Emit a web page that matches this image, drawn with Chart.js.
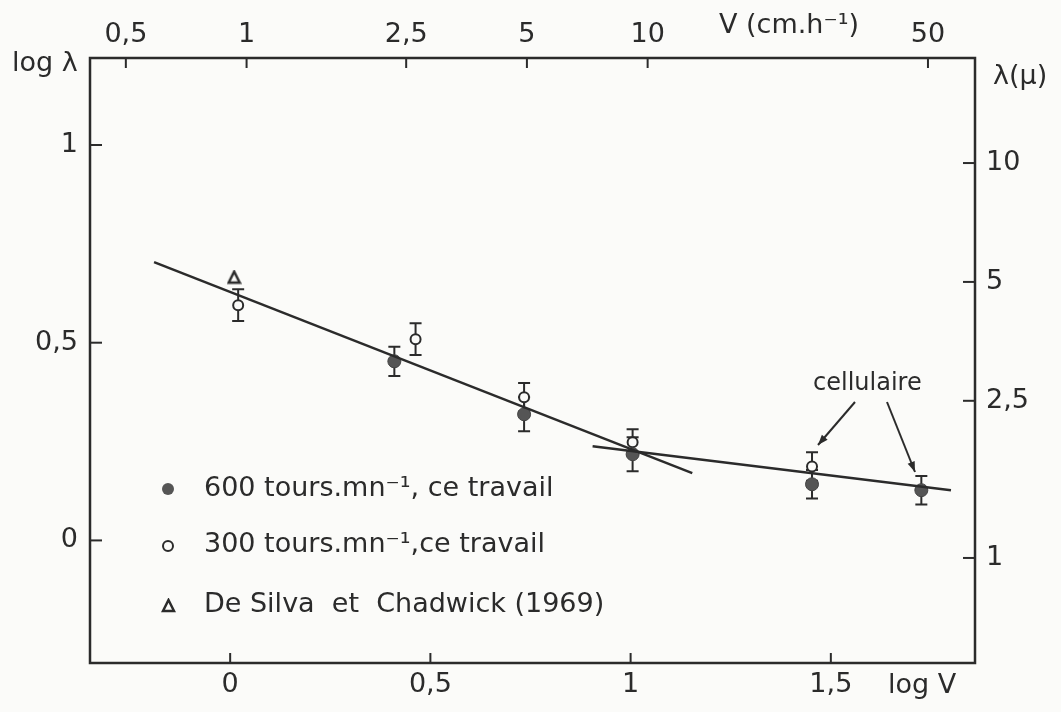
<!DOCTYPE html>
<html>
<head>
<meta charset="utf-8">
<script src="https://cdn.jsdelivr.net/npm/chart.js@4.4.1/dist/chart.umd.min.js"></script>
<style>
  body { margin: 0; background: #fbfbf9; }
  canvas { display: block; }
</style>
</head>
<body>
<canvas id="chart" width="1061" height="712"></canvas>
<script>
// data (log V, log lambda)
const logV600 = [0.41, 0.734, 1.005, 1.453, 1.726];
const logL600 = [0.453, 0.319, 0.218, 0.142, 0.127];
const err600 = [0.037, 0.043, 0.043, 0.036, 0.036];

const logV300 = [0.02, 0.463, 0.734, 1.005, 1.453];
const logL300 = [0.595, 0.509, 0.362, 0.248, 0.187];
const err300 = [0.04, 0.04, 0.036, 0.033, 0.036];

const logVDeSilva = [0.01];
const logLDeSilva = [0.666];

// fitted straight lines
const fit1V = [-0.19, 1.154];
const fit1L = [0.704, 0.170];
const fit2V = [0.905, 1.80];
const fit2L = [0.238, 0.127];

// tick labels
const bottomTicks = [0, 0.5, 1, 1.5];
const bottomLabels = ['0', '0,5', '1', '1,5'];
const leftTicks = [0, 0.5, 1];
const leftLabels = ['0', '0,5', '1'];
const topTicks = [0.5, 1, 2.5, 5, 10, 50];
const topLabels = ['0,5', '1', '2,5', '5', '10', '50'];
const rightTicks = [1, 2.5, 5, 10];
const rightLabels = ['1', '2,5', '5', '10'];

const INK = '#2b2b2b';
const FONT = '"DejaVu Sans", "Liberation Sans", sans-serif';

function pts(xs, ys) {
    return xs.map((x, i) => ({ x: x, y: ys[i] }));
}

function triangle(size) {
    const c = document.createElement('canvas');
    c.width = size + 4; c.height = size + 4;
    const g = c.getContext('2d');
    g.strokeStyle = INK; g.lineWidth = 2.5;
    g.beginPath();
    g.moveTo(c.width / 2, 2);
    g.lineTo(c.width - 2, c.height - 2);
    g.lineTo(2, c.height - 2);
    g.closePath();
    g.stroke();
    return c;
}

const frame = {
    id: 'frame',
    beforeDatasetsDraw(chart) {
        const g = chart.ctx;
        const a = chart.chartArea;
        const x = chart.scales.x, y = chart.scales.y;
        const x2 = chart.scales.x2, y2 = chart.scales.y2;
        g.save();
        g.strokeStyle = INK;
        g.fillStyle = INK;
        g.lineWidth = 2.5;
        g.strokeRect(a.left, a.top, a.right - a.left, a.bottom - a.top);

        g.lineWidth = 2;
        g.font = '27px ' + FONT;
        // bottom
        g.textAlign = 'center'; g.textBaseline = 'top';
        bottomTicks.forEach((v, i) => {
            const px = x.getPixelForValue(v);
            g.beginPath(); g.moveTo(px, a.bottom); g.lineTo(px, a.bottom - 10); g.stroke();
            g.fillText(bottomLabels[i], px, a.bottom + 8);
        });
        // top
        g.textBaseline = 'bottom';
        topTicks.forEach((v, i) => {
            const px = x2.getPixelForValue(v);
            g.beginPath(); g.moveTo(px, a.top); g.lineTo(px, a.top + 10); g.stroke();
            g.fillText(topLabels[i], px, a.top - 10);
        });
        // left
        g.textAlign = 'right'; g.textBaseline = 'middle';
        leftTicks.forEach((v, i) => {
            const py = y.getPixelForValue(v);
            g.beginPath(); g.moveTo(a.left, py); g.lineTo(a.left + 12, py); g.stroke();
            g.fillText(leftLabels[i], a.left - 12, py);
        });
        // right
        g.textAlign = 'left';
        rightTicks.forEach((v, i) => {
            const py = y2.getPixelForValue(v);
            g.beginPath(); g.moveTo(a.right, py); g.lineTo(a.right - 12, py); g.stroke();
            g.fillText(rightLabels[i], a.right + 11, py);
        });

        // axis titles
        g.textAlign = 'left'; g.textBaseline = 'middle';
        g.fillText('log λ', 12, 64);
        g.fillText('λ(μ)', 993, 77);
        g.fillText('V (cm.h⁻¹)', 719, 26);
        g.fillText('log V', 888, 686);

        // error bars
        const bars = (xs, ys, es) => {
            xs.forEach((v, i) => {
                const px = x.getPixelForValue(v);
                const t = y.getPixelForValue(ys[i] + es[i]);
                const b = y.getPixelForValue(ys[i] - es[i]);
                g.beginPath();
                g.moveTo(px, t); g.lineTo(px, b);
                g.moveTo(px - 6, t); g.lineTo(px + 6, t);
                g.moveTo(px - 6, b); g.lineTo(px + 6, b);
                g.stroke();
            });
        };
        bars(logV600, logL600, err600);
        bars(logV300, logL300, err300);
        g.restore();
    },
    afterDatasetsDraw(chart) {
        const g = chart.ctx;
        g.save();
        g.strokeStyle = INK;
        g.fillStyle = INK;
        g.lineWidth = 2;
        // legend
        g.fillStyle = '#555';
        g.beginPath(); g.arc(168, 489, 6, 0, Math.PI * 2); g.fill();
        g.fillStyle = '#fbfbf9';
        g.beginPath(); g.arc(168, 546, 5, 0, Math.PI * 2); g.fill(); g.stroke();
        g.fillStyle = INK;
        g.drawImage(triangle(11), 161, 598);
        g.font = '27px ' + FONT;
        g.textAlign = 'left'; g.textBaseline = 'middle';
        g.fillText('600 tours.mn⁻¹, ce travail', 204, 489);
        g.fillText('300 tours.mn⁻¹,ce travail', 204, 545);
        g.fillText('De Silva  et  Chadwick (1969)', 204, 605);

        // annotation
        g.font = '24px ' + FONT;
        g.fillText('cellulaire', 813, 384);
        const arrow = (x1, y1, x2, y2) => {
            g.beginPath(); g.moveTo(x1, y1); g.lineTo(x2, y2); g.stroke();
            const ang = Math.atan2(y2 - y1, x2 - x1);
            g.beginPath();
            g.moveTo(x2, y2);
            g.lineTo(x2 - 11 * Math.cos(ang - 0.35), y2 - 11 * Math.sin(ang - 0.35));
            g.lineTo(x2 - 11 * Math.cos(ang + 0.35), y2 - 11 * Math.sin(ang + 0.35));
            g.closePath(); g.fill();
        };
        arrow(855, 402, 818, 445);
        arrow(887, 402, 915, 472);
        g.restore();
    }
};

new Chart(document.getElementById('chart'), {
    type: 'scatter',
    data: {
        datasets: [
            {
                label: 'fit1',
                data: pts(fit1V, fit1L),
                showLine: true,
                borderColor: INK,
                borderWidth: 2.5,
                pointRadius: 0
            },
            {
                label: 'fit2',
                data: pts(fit2V, fit2L),
                showLine: true,
                borderColor: INK,
                borderWidth: 2.5,
                pointRadius: 0
            },
            {
                label: '600 tours.mn-1, ce travail',
                data: pts(logV600, logL600),
                pointRadius: 6.5,
                pointBackgroundColor: '#555',
                pointBorderColor: '#444',
                borderWidth: 1
            },
            {
                label: '300 tours.mn-1, ce travail',
                data: pts(logV300, logL300),
                pointRadius: 5,
                pointBackgroundColor: '#fbfbf9',
                pointBorderColor: INK,
                pointBorderWidth: 2
            },
            {
                label: 'De Silva et Chadwick (1969)',
                data: pts(logVDeSilva, logLDeSilva),
                pointStyle: triangle(11)
            }
        ]
    },
    options: {
        responsive: false,
        animation: false,
        layout: { padding: { left: 90, right: 86, top: 58, bottom: 49 } },
        plugins: {
            legend: { display: false },
            tooltip: { enabled: false }
        },
        scales: {
            x: { type: 'linear', position: 'bottom', min: -0.35, max: 1.86, display: false },
            y: { type: 'linear', position: 'left', min: -0.31, max: 1.22, display: false },
            x2: { type: 'logarithmic', position: 'top', min: 0.407, max: 65.5, display: false },
            y2: { type: 'logarithmic', position: 'right', min: 0.542, max: 18.45, display: false }
        }
    },
    plugins: [frame]
});
</script>
</body>
</html>
